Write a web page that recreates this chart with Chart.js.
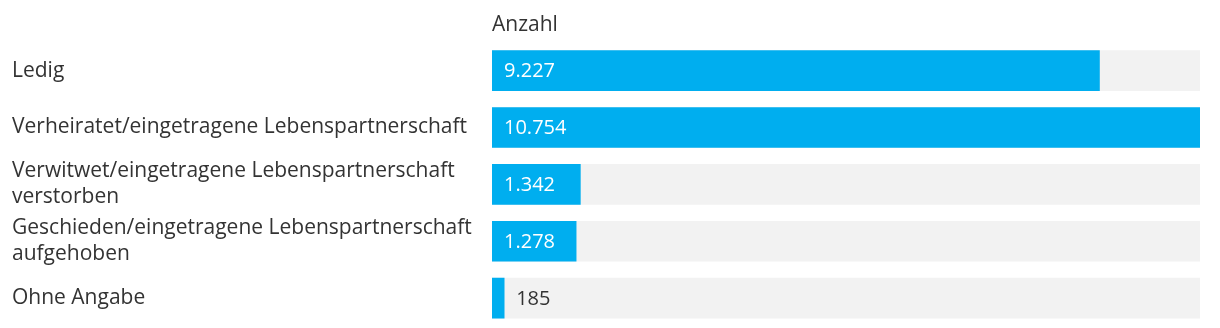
<!DOCTYPE html>
<html lang="de">
<head>
    <meta charset="UTF-8">
    <title>Familienstand</title>
    <script src="https://cdn.jsdelivr.net/npm/chart.js"></script>
    <style>
        html, body { margin: 0; padding: 0; background: #fff; }
        #wrap { width: 1220px; height: 328px; }
    </style>
</head>
<body>
    <div id="wrap"><canvas id="chart"></canvas></div>

    <script>
        // Daten
        const categories = [
            ['Ledig'],
            ['Verheiratet/eingetragene Lebenspartnerschaft'],
            ['Verwitwet/eingetragene Lebenspartnerschaft', 'verstorben'],
            ['Geschieden/eingetragene Lebenspartnerschaft', 'aufgehoben'],
            ['Ohne Angabe']
        ];
        const anzahl = [9227, 10754, 1342, 1278, 185];
        const axisTitle = 'Anzahl';

        const maxValue = Math.max(...anzahl);
        const track = anzahl.map(() => maxValue);

        const FONT = '"Open Sans", sans-serif';
        const TEXT = '#333333';
        const BLUE = '#00aeef';

        function fmt(n) {
            return String(n).replace(/\B(?=(\d{3})+(?!\d))/g, '.');
        }

        // Zahlen in bzw. neben den Balken
        const valueLabels = {
            id: 'valueLabels',
            afterDatasetsDraw(chart) {
                const ctx = chart.ctx;
                const meta = chart.getDatasetMeta(0);
                ctx.save();
                ctx.font = '20px ' + FONT;
                ctx.textBaseline = 'middle';
                ctx.textAlign = 'left';
                meta.data.forEach((bar, i) => {
                    const txt = fmt(anzahl[i]);
                    const w = ctx.measureText(txt).width;
                    const left = bar.base;
                    if (bar.x - left > w + 24) {
                        ctx.fillStyle = '#ffffff';
                        ctx.fillText(txt, left + 12, bar.y + 1);
                    } else {
                        ctx.fillStyle = TEXT;
                        ctx.fillText(txt, bar.x + 12, bar.y + 1);
                    }
                });
                ctx.restore();
            }
        };

        new Chart(document.getElementById('chart'), {
            type: 'bar',
            data: {
                labels: categories,
                datasets: [
                    {
                        data: anzahl,
                        backgroundColor: BLUE,
                        barThickness: 40,
                        grouped: false,
                        order: 1
                    },
                    {
                        data: track,
                        backgroundColor: '#f2f2f2',
                        barThickness: 40,
                        grouped: false,
                        order: 2
                    }
                ]
            },
            options: {
                indexAxis: 'y',
                responsive: true,
                maintainAspectRatio: false,
                animation: false,
                layout: { padding: { left: 12, right: 20, top: 9, bottom: 1.5 } },
                plugins: {
                    legend: { display: false },
                    tooltip: { enabled: false }
                },
                scales: {
                    x: {
                        position: 'top',
                        min: 0,
                        max: maxValue,
                        grid: { display: false },
                        border: { display: false },
                        ticks: { display: false },
                        title: {
                            display: true,
                            text: axisTitle,
                            align: 'start',
                            color: TEXT,
                            font: { family: FONT, size: 21 },
                            padding: { top: 3, bottom: -3 }
                        }
                    },
                    y: {
                        grid: { display: false },
                        border: { display: false },
                        afterFit(scale) {
                            scale.width = 480;
                            scale.paddingTop = 0;
                            scale.paddingBottom = 0;
                        },
                        ticks: {
                            autoSkip: false,
                            crossAlign: 'far',
                            color: TEXT,
                            padding: 0,
                            font: { family: FONT, size: 21, lineHeight: 1.25 }
                        }
                    }
                }
            },
            plugins: [valueLabels]
        });
    </script>
</body>
</html>
